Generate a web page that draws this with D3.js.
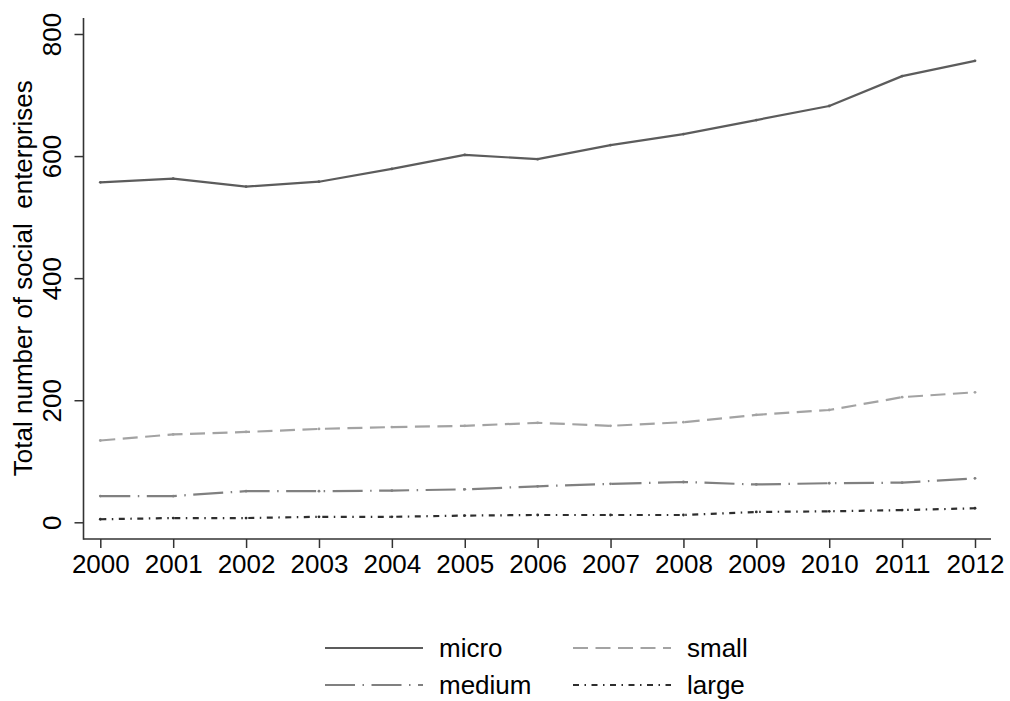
<!DOCTYPE html>
<html>
<head>
<meta charset="utf-8">
<script src="https://cdn.jsdelivr.net/npm/d3@7"></script>
<style>
  html, body { margin: 0; padding: 0; background: #fff; }
  svg { display: block; font-family: "Liberation Sans", Arial, Helvetica, sans-serif; }
</style>
</head>
<body>
<svg id="chart" width="1010" height="701"></svg>
<script>
// Social enterprises by size class, 2000–2012
const years = [2000, 2001, 2002, 2003, 2004, 2005, 2006, 2007, 2008, 2009, 2010, 2011, 2012];
const micro  = [557, 563, 550, 558, 579, 602, 595, 618, 636, 659, 682, 731, 756];
const small  = [134, 144, 148, 153, 156, 158, 163, 158, 164, 176, 184, 205, 213];
const medium = [43, 43, 51, 51, 52, 54, 59, 63, 66, 62, 64, 65, 72];
const large  = [5, 7, 7, 9, 9, 11, 12, 12, 12, 17, 18, 20, 23];
const yTicks = [0, 200, 400, 600, 800];
const yTitle = "Total number of social  enterprises";

const series = [
  { name: "micro",  values: micro,  color: "#5c5c5c", dash: null },
  { name: "small",  values: small,  color: "#a3a3a3", dash: "15 7.5" },
  { name: "medium", values: medium, color: "#808080", dash: "30 7.5 1.5 7.5" },
  { name: "large",  values: large,  color: "#2e2e2e", dash: "6 5.5 1.5 5.5" }
];

const svg = d3.select("#chart");
const axisColor = "#333";
const fontSize = "26px";

const x = d3.scaleLinear().domain([2000, 2012]).range([100.3, 975]);
const y = d3.scaleLinear().domain([0, 800]).range([522.3, 34]);

// axis frames
const xAxisY = 539, yAxisX = 83.5;
svg.append("line").attr("x1", yAxisX).attr("x2", yAxisX).attr("y1", 18).attr("y2", xAxisY + 0.75)
  .attr("stroke", axisColor).attr("stroke-width", 1.6);
svg.append("line").attr("x1", yAxisX).attr("x2", 991).attr("y1", xAxisY).attr("y2", xAxisY)
  .attr("stroke", axisColor).attr("stroke-width", 1.6);

// y axis, labels rotated upright along the axis
const yAxis = d3.axisLeft(y).tickValues(yTicks).tickSize(9).tickPadding(0).tickFormat(d3.format("d"));
const gy = svg.append("g").attr("transform", `translate(${yAxisX},0)`).call(yAxis);
gy.select(".domain").remove();
gy.selectAll(".tick line").attr("stroke", axisColor).attr("stroke-width", 1.5);
gy.selectAll(".tick text")
  .attr("x", 0).attr("y", 0).attr("dy", "0.35em")
  .attr("transform", "translate(-32,0) rotate(-90)")
  .attr("text-anchor", "middle")
  .attr("fill", "#000")
  .style("font-size", fontSize)
  .style("font-family", "'Liberation Sans', Arial, sans-serif");

// x axis
const xAxis = d3.axisBottom(x).tickValues(years).tickSize(9).tickPadding(7).tickFormat(d3.format("d"));
const gx = svg.append("g").attr("transform", `translate(0,${xAxisY})`).call(xAxis);
gx.select(".domain").remove();
gx.selectAll(".tick line").attr("stroke", axisColor).attr("stroke-width", 1.5);
gx.selectAll(".tick text")
  .attr("fill", "#000")
  .style("font-size", fontSize)
  .style("font-family", "'Liberation Sans', Arial, sans-serif");

// y title
svg.append("text")
  .attr("transform", `translate(23,${y(400)}) rotate(-90)`)
  .attr("text-anchor", "middle")
  .attr("dy", "0.35em")
  .style("font-size", fontSize)
  .style("white-space", "pre")
  .attr("fill", "#000")
  .text(yTitle);

// lines
const line = d3.line().x((d, i) => x(years[i])).y(d => y(d));
series.forEach(s => {
  svg.append("path")
    .datum(s.values)
    .attr("d", line)
    .attr("fill", "none")
    .attr("stroke", s.color)
    .attr("stroke-width", 2.2)
    .attr("stroke-dasharray", s.dash)
    .attr("stroke-linejoin", "round");
  svg.append("g").selectAll("circle")
    .data(s.values)
    .join("circle")
    .attr("cx", (d, i) => x(years[i]))
    .attr("cy", d => y(d))
    .attr("r", 1.4)
    .attr("fill", s.color);
});

// legend
const legendPos = [
  { x: 325, y: 648 }, { x: 573, y: 648 },
  { x: 325, y: 685 }, { x: 573, y: 685 }
];
series.forEach((s, i) => {
  const p = legendPos[i];
  svg.append("line")
    .attr("x1", p.x).attr("x2", p.x + 98).attr("y1", p.y).attr("y2", p.y)
    .attr("stroke", s.color).attr("stroke-width", 2.2)
    .attr("stroke-dasharray", s.dash);
  svg.append("text")
    .attr("x", p.x + 114).attr("y", p.y)
    .attr("dy", "0.35em")
    .style("font-size", fontSize)
    .attr("fill", "#000")
    .text(s.name);
});
</script>
</body>
</html>
